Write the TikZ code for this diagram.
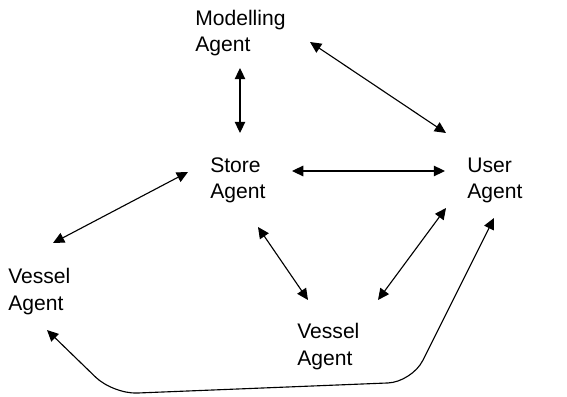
\documentclass[tikz,border=0pt]{standalone}
\usepackage{fontspec}
\setmainfont{Liberation Sans}
\usetikzlibrary{backgrounds,arrows.meta}
\pgfdeclarelayer{edgelayer}
\pgfdeclarelayer{nodelayer}
\pgfsetlayers{edgelayer,nodelayer,main}
\tikzset{font=\fontsize{15}{19}\selectfont}
\tikzstyle{none}=[inner sep=0pt]
\tikzstyle{agent}=[inner sep=0pt,align=left,anchor=base west]
\tikzstyle{link}=[line width=0.8pt,{Triangle[length=8pt,width=7.5pt]}-{Triangle[length=8pt,width=7.5pt]}]

\begin{document}
\begin{tikzpicture}
	\useasboundingbox (0,0) rectangle (14.175,9.9);
	\begin{pgfonlayer}{nodelayer}
		\node [style=agent] (0) at (4.875, 8.6) {Modelling\\Agent};
		\node [style=agent] (1) at (5.25, 4.925) {Store\\Agent};
		\node [style=agent] (2) at (11.675, 4.925) {User\\Agent};
		\node [style=agent] (3) at (0.2, 2.15) {Vessel\\Agent};
		\node [style=agent] (4) at (7.425, 0.775) {Vessel\\Agent};
		\node [style=none] (5) at (6, 8.2) {};
		\node [style=none] (6) at (6, 6.575) {};
		\node [style=none] (7) at (7.75, 8.85) {};
		\node [style=none] (8) at (11.15, 6.575) {};
		\node [style=none] (9) at (7.3, 5.625) {};
		\node [style=none] (10) at (11.125, 5.625) {};
		\node [style=none] (11) at (4.7, 5.6) {};
		\node [style=none] (12) at (1.325, 3.825) {};
		\node [style=none] (13) at (6.45, 4.225) {};
		\node [style=none] (14) at (7.7, 2.4) {};
		\node [style=none] (15) at (11.15, 4.7) {};
		\node [style=none] (16) at (9.45, 2.4) {};
		\node [style=none] (17) at (1.175, 1.65) {};
		\node [style=none] (18) at (2.825, 0.05) {};
		\node [style=none] (19) at (10.3, 0.35) {};
		\node [style=none] (20) at (12.35, 4.45) {};
	\end{pgfonlayer}
	\begin{pgfonlayer}{edgelayer}
		\draw [style=link] (5.center) to (6.center);
		\draw [style=link] (7.center) to (8.center);
		\draw [style=link] (9.center) to (10.center);
		\draw [style=link] (11.center) to (12.center);
		\draw [style=link] (13.center) to (14.center);
		\draw [style=link] (15.center) to (16.center);
		\draw [style=link, rounded corners=0.6cm] (17.center) -- (18.center) -- (19.center) -- (20.center);
	\end{pgfonlayer}
\end{tikzpicture}
\end{document}
